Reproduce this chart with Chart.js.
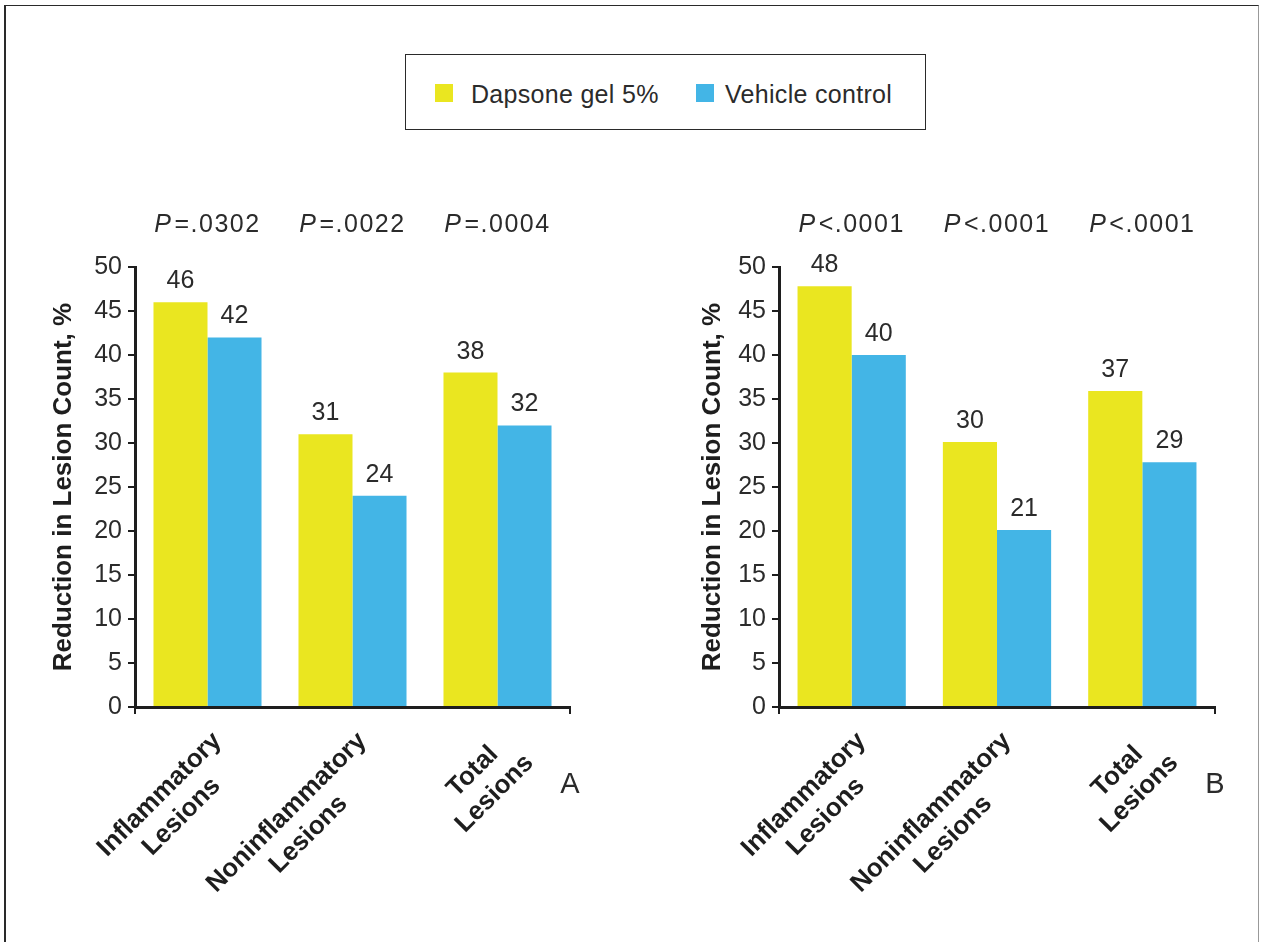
<!DOCTYPE html>
<html>
<head>
<meta charset="utf-8">
<title>Dapsone gel 5% vs vehicle</title>
<script src="https://cdn.jsdelivr.net/npm/chart.js@4.4.1/dist/chart.umd.min.js"></script>
<style>
  html, body { margin: 0; padding: 0; background: #fff; }
  body { width: 1261px; height: 942px; position: relative; overflow: hidden;
         font-family: 'Liberation Sans', Arial, sans-serif; color: #2b2b2b; }
  #frame { position: absolute; left: 4px; top: 5px; width: 1252px; height: 1000px;
           border: 1px solid #2a2a2a; border-left-width: 2px; border-right-color: #999; }
  #legend { position: absolute; left: 405px; top: 54px; width: 519px; height: 74px;
            border: 1px solid #2a2a2a; background: #fff; }
  #legend .sw { position: absolute; top: 29px; width: 18px; height: 18px; }
  #legend .lbl { position: absolute; top: 27px; font-size: 25px; line-height: 25px;
                 white-space: nowrap; letter-spacing: 0.3px; }
  canvas { position: absolute; top: 0; }
  #chartA { left: 0; }
  #chartB { left: 640px; }
</style>
</head>
<body>
<div id="frame"></div>
<canvas id="chartA" width="640" height="942"></canvas>
<canvas id="chartB" width="621" height="942"></canvas>
<div id="legend">
  <div class="sw" style="left:29px;background:#EAE620"></div>
  <div class="lbl" style="left:65px">Dapsone gel 5%</div>
  <div class="sw" style="left:290px;background:#43B5E6"></div>
  <div class="lbl" style="left:319px">Vehicle control</div>
</div>
<script>
// categories and series
var categories = [['Inflammatory', 'Lesions'], ['Noninflammatory', 'Lesions'], ['Total', 'Lesions']];
var seriesNames = ['Dapsone gel 5%', 'Vehicle control'];

// panel A
var dapsoneA = [46, 31, 38];
var vehicleA = [42, 24, 32];
var dapsoneLabelsA = [46, 31, 38];
var vehicleLabelsA = [42, 24, 32];
var pValuesA = ['P=.0302', 'P=.0022', 'P=.0004'];

// panel B (bar heights as drawn, labels as printed)
var dapsoneB = [47.8, 30.1, 35.9];
var vehicleB = [40, 20.1, 27.8];
var dapsoneLabelsB = [48, 30, 37];
var vehicleLabelsB = [40, 21, 29];
var pValuesB = ['P<.0001', 'P<.0001', 'P<.0001'];

var yMin = 0, yMax = 50, yStep = 5;
var yTitle = 'Reduction in Lesion Count, %';

var yellow = '#EAE620';
var blue = '#43B5E6';
var ink = '#2b2b2b';
var family = "'Liberation Sans', Arial, sans-serif";

Chart.defaults.font.family = family;
Chart.defaults.color = ink;

function overlay(pTexts, labelSets, panel) {
    return {
        id: 'overlay' + panel,
        afterDatasetsDraw: function(chart) {
            var ctx = chart.ctx, xs = chart.scales.x, area = chart.chartArea;
            ctx.save();
            ctx.fillStyle = ink;

            // values above bars
            ctx.font = '25px ' + family;
            ctx.textAlign = 'center';
            ctx.textBaseline = 'alphabetic';
            chart.data.datasets.forEach(function(ds, di) {
                chart.getDatasetMeta(di).data.forEach(function(bar, i) {
                    ctx.fillText(String(labelSets[di][i]), bar.x, bar.y - 14);
                });
            });

            // P values over each group
            ctx.textAlign = 'left';
            ctx.letterSpacing = '1.5px';
            pTexts.forEach(function(t, i) {
                var cx = xs.getPixelForValue(i);
                ctx.font = 'italic 25px ' + family;
                var pW = ctx.measureText('P').width;
                ctx.font = '25px ' + family;
                var rest = t.slice(1);
                var rW = ctx.measureText(rest).width;
                var x0 = cx - (pW + rW + 2) / 2;
                ctx.font = 'italic 25px ' + family;
                ctx.fillText('P', x0, area.top - 35);
                ctx.font = '25px ' + family;
                ctx.fillText(rest, x0 + pW + 2, area.top - 35);
            });
            ctx.letterSpacing = '0px';

            // rotated category labels
            ctx.font = 'bold 26px ' + family;
            ctx.fillStyle = '#1e1e1e';
            categories.forEach(function(lines, i) {
                var cx = xs.getPixelForValue(i);
                var w = Math.max.apply(null, lines.map(function(l) { return ctx.measureText(l).width; }));
                ctx.save();
                ctx.translate(cx + 15, area.bottom + 35);
                ctx.rotate(-Math.PI / 4);
                ctx.textAlign = 'center';
                lines.forEach(function(l, k) {
                    ctx.fillText(l, -w / 2, k * 31);
                });
                ctx.restore();
            });

            // panel letter
            ctx.fillStyle = ink;
            ctx.font = '29px ' + family;
            ctx.textAlign = 'center';
            ctx.fillText(panel, area.right, area.bottom + 86);
            ctx.restore();
        }
    };
}

function makeChart(id, dapsone, vehicle, labelSets, pTexts, panel, pad, yWidth) {
    var ctx = document.getElementById(id).getContext('2d');
    return new Chart(ctx, {
        type: 'bar',
        data: {
            labels: categories.map(function(c) { return c.join(' '); }),
            datasets: [{
                label: seriesNames[0],
                data: dapsone,
                backgroundColor: yellow,
                borderWidth: 0
            }, {
                label: seriesNames[1],
                data: vehicle,
                backgroundColor: blue,
                borderWidth: 0
            }]
        },
        options: {
            responsive: false,
            animation: false,
            devicePixelRatio: 1,
            categoryPercentage: 0.745,
            barPercentage: 1.0,
            layout: { padding: pad },
            plugins: {
                legend: { display: false },
                tooltip: { enabled: false }
            },
            scales: {
                x: {
                    type: 'category',
                    offset: true,
                    ticks: { display: false },
                    grid: {
                        drawOnChartArea: false,
                        drawTicks: true,
                        tickLength: 7,
                        lineWidth: 2,
                        // only the two end ticks are marked
                        color: function(c) {
                            return (c.index === 0 || c.index === undefined) ? '#1e1e1e' : 'rgba(0,0,0,0)';
                        }
                    },
                    border: { display: true, color: '#1e1e1e', width: 3 },
                    afterFit: function(scale) { scale.height = 235; }
                },
                y: {
                    min: yMin,
                    max: yMax,
                    ticks: {
                        stepSize: yStep,
                        padding: 6,
                        color: ink,
                        font: { size: 25 }
                    },
                    grid: {
                        drawOnChartArea: false,
                        drawTicks: true,
                        tickLength: 7,
                        lineWidth: 2,
                        color: '#1e1e1e'
                    },
                    border: { display: true, color: '#1e1e1e', width: 3 },
                    title: {
                        display: true,
                        text: yTitle,
                        color: '#1e1e1e',
                        font: { size: 26, weight: 'bold' },
                        padding: { top: 4, bottom: 4 }
                    },
                    afterFit: function(scale) { scale.width = yWidth; }
                }
            }
        },
        plugins: [overlay(pTexts, labelSets, panel)]
    });
}

var chartA = makeChart('chartA', dapsoneA, vehicleA, [dapsoneLabelsA, vehicleLabelsA], pValuesA, 'A',
    { left: 44, right: 70, top: 267, bottom: 0 }, 91);
var chartB = makeChart('chartB', dapsoneB, vehicleB, [dapsoneLabelsB, vehicleLabelsB], pValuesB, 'B',
    { left: 53, right: 46, top: 267, bottom: 0 }, 86);
</script>
</body>
</html>
